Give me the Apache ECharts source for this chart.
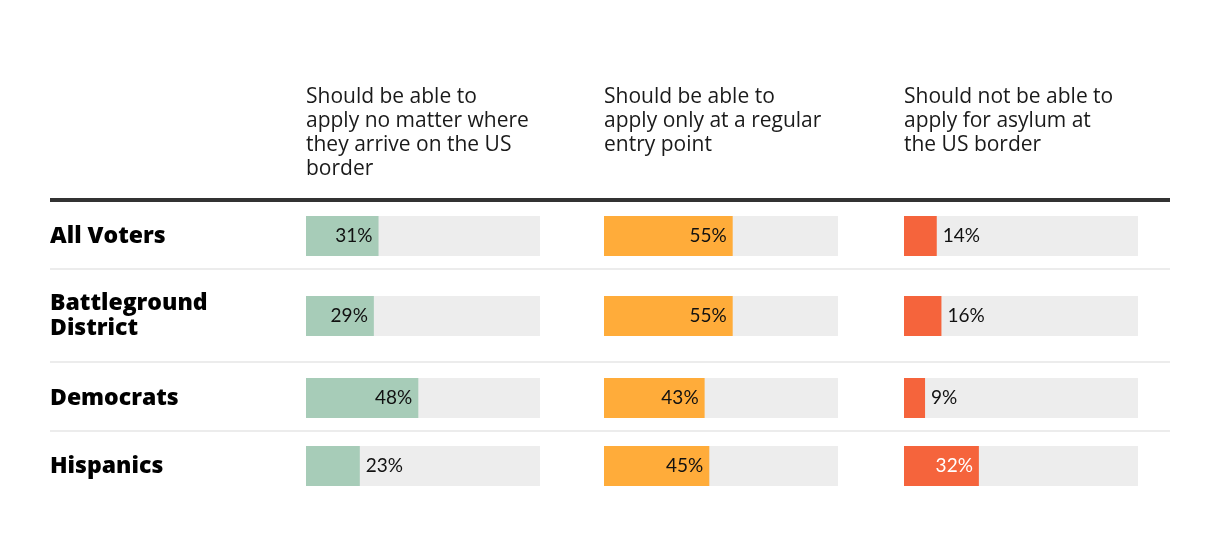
<!DOCTYPE html>
<html>
<head>
<meta charset="utf-8">
<script src="https://cdn.jsdelivr.net/npm/echarts@6/dist/echarts.min.js"></script>
<style>
html,body{margin:0;padding:0;background:#fff;}
#chart{width:1220px;height:548px;}
</style>
</head>
<body>
<div id="chart"></div>
<script>
// ---- data ----
var groups = ['All Voters', 'Battleground\nDistrict', 'Democrats', 'Hispanics'];
var columns = [
  'Should be able to\napply no matter where\nthey arrive on the US\nborder',
  'Should be able to\napply only at a regular\nentry point',
  'Should not be able to\napply for asylum at\nthe US border'
];
var anywhere = [31, 29, 48, 23];
var entryPoint = [55, 55, 43, 45];
var noAsylum = [14, 16, 9, 32];

// ---- layout / style ----
var seriesValues = [anywhere, entryPoint, noAsylum];
var colors = ['#a7ccb8', '#ffac3a', '#f5643c'];
var insideTextColors = ['#111', '#111', '#fff'];
var colLeft = [306, 604, 904];
var colWidth = 234;
var rowTop = [216, 296, 378, 446];
var barH = 40;
var HEAD_FONT = '"Open Sans", Lato, sans-serif';
var ROW_FONT = '"Open Sans", Lato, sans-serif';
var VAL_FONT = 'Lato, "Open Sans", sans-serif';

var grids = [], xAxes = [], yAxes = [], series = [];
var idx = 0;
for (var r = 0; r < groups.length; r++) {
  for (var c = 0; c < columns.length; c++) {
    grids.push({left: colLeft[c], top: rowTop[r], width: colWidth, height: barH, containLabel: false});
    xAxes.push({type: 'value', gridIndex: idx, min: 0, max: 100, show: false});
    yAxes.push({
      type: 'category', gridIndex: idx, data: [groups[r]],
      axisLine: {show: false}, axisTick: {show: false}, splitLine: {show: false},
      axisLabel: {
        show: c === 0, align: 'left', margin: colLeft[0] - 50,
        fontFamily: ROW_FONT, fontSize: 23, fontWeight: 800, color: '#000', lineHeight: 25
      }
    });
    var v = seriesValues[c][r];
    var inside = v >= 25;
    series.push({
      type: 'bar', xAxisIndex: idx, yAxisIndex: idx,
      data: [v], barWidth: barH,
      itemStyle: {color: colors[c]},
      showBackground: true,
      backgroundStyle: {color: '#ededed'},
      silent: true,
      label: {
        show: true,
        position: inside ? 'insideRight' : 'right',
        distance: 6,
        formatter: '{c}%',
        fontFamily: VAL_FONT, fontSize: 19,
        color: inside ? insideTextColors[c] : '#111'
      }
    });
    idx++;
  }
}

var titles = columns.map(function (t, c) {
  return {
    text: t, left: colLeft[c], top: 85, padding: 0,
    textStyle: {fontFamily: HEAD_FONT, fontSize: 21, fontWeight: 'normal', color: '#1a1a1a', lineHeight: 24}
  };
});

function hline(y, w, color) {
  return {type: 'line', silent: true, shape: {x1: 50, y1: y, x2: 1170, y2: y}, style: {stroke: color, lineWidth: w}};
}

var chart = echarts.init(document.getElementById('chart'), null, {renderer: 'canvas'});
chart.setOption({
  animation: false,
  backgroundColor: '#fff',
  title: titles,
  grid: grids,
  xAxis: xAxes,
  yAxis: yAxes,
  series: series,
  graphic: [
    hline(200, 4, '#333'),
    hline(269, 2, '#ececec'),
    hline(362, 2, '#ececec'),
    hline(431, 2, '#ececec')
  ]
});
</script>
</body>
</html>
